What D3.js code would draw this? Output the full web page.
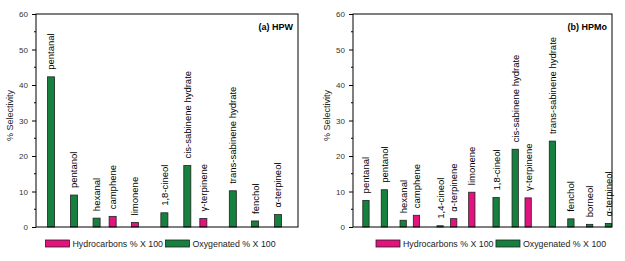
<!DOCTYPE html>
<html><head><meta charset="utf-8">
<script src="https://cdn.jsdelivr.net/npm/d3@7"></script>
<style>
body{margin:0;background:#fff;}
svg{display:block;}
text{font-family:"Liberation Sans",Arial,sans-serif;}
</style></head>
<body>
<svg id="chart" width="625" height="261"></svg>
<script>
// ---- data ----
const yTicks = [0, 10, 20, 30, 40, 50, 60];

// (a) HPW
const hpwNames  = ["pentanal","pentanol","hexanal","camphene","limonene","1,8-cineol","cis-sabinene hydrate","\u03b3-terpinene","trans-sabinene hydrate","fenchol","\u03b1-terpineol"];
const hpwValues = [42.3, 9.0, 2.5, 3.0, 1.3, 4.0, 17.3, 2.4, 10.2, 1.7, 3.5];
const hpwTypes  = ["O","O","O","H","H","O","O","H","O","O","O"];
const hpwX      = [4.6, 11.6, 18.5, 23.4, 30.2, 39.2, 46.2, 51.1, 60.1, 66.9, 73.9];

// (b) HPMo
const hpmoNames  = ["pentanal","pentanol","hexanal","camphene","1,4-cineol","\u03b1-terpinene","limonene","1,8-cineol","cis-sabinene hydrate","\u03b3-terpinene","trans-sabinene hydrate","fenchol","borneol","\u03b1-terpineol"];
const hpmoValues = [7.5, 10.5, 1.9, 3.3, 0.35, 2.35, 9.8, 8.3, 21.9, 8.2, 24.2, 2.3, 0.75, 1.0];
const hpmoTypes  = ["O","O","O","H","O","H","H","O","O","H","O","O","O","O"];
const hpmoX      = [4.0, 9.7, 15.5, 19.6, 26.9, 31.1, 36.7, 44.2, 50.1, 54.1, 61.6, 67.3, 73.1, 78.9];

const legendNames = ["Hydrocarbons % X 100", "Oxygenated % X 100"];
const colors = {H: "#e3127f", O: "#16803f"};

const svg = d3.select("#chart");

function panel(opts) {
  const {left, right, top, bottom, names, values, types, xs, title, barW, legendX, legendGap} = opts;
  const g = svg.append("g");
  const x = d3.scaleLinear().domain([0, 80]).range([left, right]);
  const y = d3.scaleLinear().domain([0, 60]).range([bottom, top]);

  // minor ticks
  const minor = d3.range(5, 60, 10);
  g.selectAll(".minor").data(minor).join("line")
    .attr("x1", left - 2).attr("x2", left)
    .attr("y1", d => y(d)).attr("y2", d => y(d))
    .attr("stroke", "#000").attr("stroke-width", 1);

  const axis = d3.axisLeft(y).tickValues(yTicks).tickSize(4).tickPadding(4);
  const ag = g.append("g").attr("transform", `translate(${left},0)`).call(axis);
  ag.select(".domain").remove();
  ag.selectAll("line").attr("stroke", "#000");
  ag.selectAll("text").attr("font-size", 8).attr("fill", "#333")
    .attr("font-family", "'Liberation Sans Narrow','Liberation Sans',Arial,sans-serif");

  // bars
  const data = names.map((n, i) => ({n, v: values[i], t: types[i], x: xs[i]}));
  const bw = x(barW) - x(0);
  g.selectAll(".bar").data(data).join("rect")
    .attr("x", d => x(d.x) - bw / 2).attr("width", bw)
    .attr("y", d => y(d.v)).attr("height", d => y(0) - y(d.v))
    .attr("fill", d => colors[d.t]).attr("stroke", "#222").attr("stroke-width", 0.8);

  // labels
  g.selectAll(".lbl").data(data).join("text")
    .attr("transform", d => `translate(${x(d.x)},${y(d.v) - 7}) rotate(-90)`)
    .attr("dy", "0.36em").attr("font-size", 9.5).attr("fill", "#000")
    .text(d => d.n);

  // frame
  g.append("rect").attr("x", left).attr("y", top)
    .attr("width", right - left).attr("height", bottom - top)
    .attr("fill", "none").attr("stroke", "#000").attr("stroke-width", 1);

  // title
  g.append("text").attr("x", right - 5).attr("y", 30)
    .attr("text-anchor", "end").attr("font-size", 9).attr("font-weight", "bold")
    .text(title);

  // y label
  g.append("text")
    .attr("transform", `translate(${left - 23},${(top + bottom) / 2 - 5}) rotate(-90)`)
    .attr("text-anchor", "middle").attr("font-size", 9).attr("fill", "#222")
    .text("% Selectivity");

  // legend
  const lg = g.append("g");
  let lx = legendX;
  legendNames.forEach((name, i) => {
    lg.append("rect").attr("x", lx).attr("y", 240).attr("width", 24).attr("height", 7)
      .attr("fill", i === 0 ? colors.H : colors.O).attr("stroke", "#222").attr("stroke-width", 0.8);
    const t = lg.append("text").attr("x", lx + 27).attr("y", 247)
      .attr("font-size", 8.8).attr("fill", "#222").text(name);
    lx = lx + 27 + t.node().getComputedTextLength() + legendGap;
  });
}

panel({left: 36, right: 298, top: 14, bottom: 227, names: hpwNames, values: hpwValues,
  types: hpwTypes, xs: hpwX, title: "(a) HPW", barW: 2.15, legendX: 45.5, legendGap: 2.5});
panel({left: 353, right: 612, top: 14, bottom: 227, names: hpmoNames, values: hpmoValues,
  types: hpmoTypes, xs: hpmoX, title: "(b) HPMo", barW: 1.95, legendX: 376, legendGap: 2.5});
</script>
</body></html>
